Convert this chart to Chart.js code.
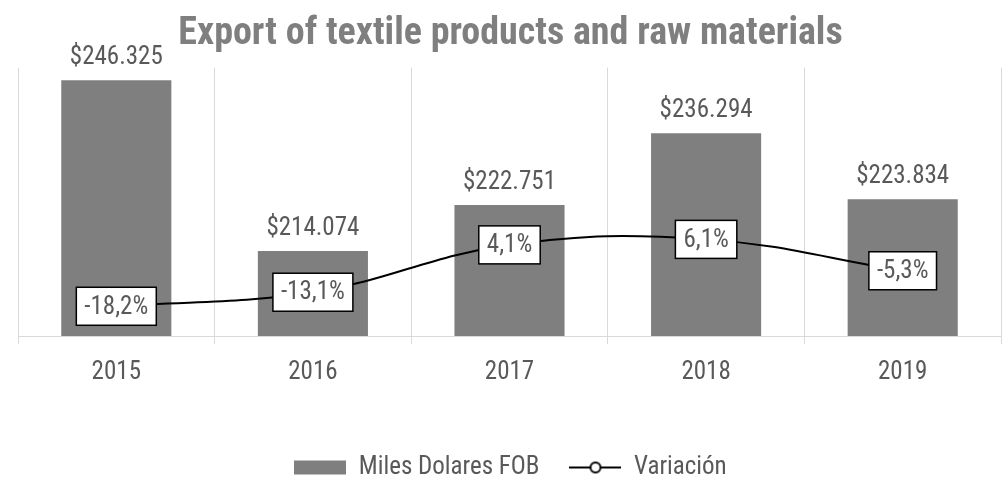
<!DOCTYPE html>
<html>
<head>
<meta charset="utf-8">
<title>Export of textile products and raw materials</title>
<script src="https://cdn.jsdelivr.net/npm/chart.js@4"></script>
<style>
  html, body { margin: 0; padding: 0; background: #fff; }
  #wrap { width: 1008px; height: 480px; }
</style>
</head>
<body>
<div id="wrap"><canvas id="chart"></canvas></div>
<script>
"use strict";
const years = ["2015", "2016", "2017", "2018", "2019"];
const exportValues = [246325, 214074, 222751, 236294, 223834];
const variation = [-18.2, -13.1, 4.1, 6.1, -5.3];
const seriesNames = ["Miles Dolares FOB", "Variación"];

const FONT = "'Liberation Sans Narrow', 'Arial Narrow', 'Roboto Condensed', 'DejaVu Sans Condensed', sans-serif";
const BAR_COLOR = "#7f7f7f";
const TEXT_COLOR = "#595959";

// number formats: $246.325 and -18,2%
function money(v) {
    return "$" + v.toString().replace(/\B(?=(\d{3})+(?!\d))/g, ".");
}
function percent(v) {
    return v.toFixed(1).replace(".", ",") + "%";
}

// little canvases used as legend symbols
function barSymbol() {
    const c = document.createElement("canvas");
    c.width = 52; c.height = 16;
    const g = c.getContext("2d");
    g.fillStyle = BAR_COLOR;
    g.fillRect(0, 1, 52, 14);
    return c;
}
function lineSymbol() {
    const c = document.createElement("canvas");
    c.width = 52; c.height = 16;
    const g = c.getContext("2d");
    g.strokeStyle = "#000";
    g.lineWidth = 2;
    g.beginPath(); g.moveTo(0, 8); g.lineTo(52, 8); g.stroke();
    g.fillStyle = "#fff";
    g.beginPath(); g.arc(26, 8, 5, 0, Math.PI * 2); g.fill(); g.stroke();
    return c;
}

// value labels: text over the bars, boxed text on the line
const valueLabels = {
    id: "valueLabels",
    afterDatasetsDraw(chart) {
        const ctx = chart.ctx;
        ctx.save();
        ctx.font = "25px " + FONT;
        ctx.textAlign = "center";

        const bars = chart.getDatasetMeta(1).data;
        ctx.fillStyle = TEXT_COLOR;
        ctx.textBaseline = "alphabetic";
        bars.forEach((bar, i) => {
            ctx.fillText(money(exportValues[i]), bar.x, bar.y - 16);
        });

        const points = chart.getDatasetMeta(0).data;
        ctx.textBaseline = "middle";
        points.forEach((pt, i) => {
            const txt = percent(variation[i]);
            const w = ctx.measureText(txt).width + 16;
            const h = 38;
            ctx.fillStyle = "#fff";
            ctx.fillRect(pt.x - w / 2, pt.y - h / 2, w, h);
            ctx.strokeStyle = "#000";
            ctx.lineWidth = 1.5;
            ctx.strokeRect(pt.x - w / 2, pt.y - h / 2, w, h);
            ctx.fillStyle = TEXT_COLOR;
            ctx.fillText(txt, pt.x, pt.y + 1);
        });
        ctx.restore();
    }
};

const symbols = [barSymbol(), lineSymbol()];

new Chart(document.getElementById("chart"), {
    data: {
        labels: years,
        datasets: [
            {
                type: "line",
                label: seriesNames[1],
                data: variation,
                yAxisID: "y2",
                borderColor: "#000",
                borderWidth: 2,
                tension: 0.4,
                pointRadius: 5,
                pointBackgroundColor: "#fff",
                pointBorderColor: "#000",
                order: 0
            },
            {
                type: "bar",
                label: seriesNames[0],
                data: exportValues,
                yAxisID: "y",
                backgroundColor: BAR_COLOR,
                categoryPercentage: 1,
                barPercentage: 0.56,
                order: 1
            }
        ]
    },
    options: {
        responsive: true,
        maintainAspectRatio: false,
        animation: false,
        layout: { padding: { left: 18, right: 5, top: 0, bottom: -10 } },
        plugins: {
            title: {
                display: true,
                text: "Export of textile products and raw materials",
                color: BAR_COLOR,
                font: { family: FONT, size: 38, weight: "bold" },
                padding: { top: 12, bottom: 10 }
            },
            legend: {
                position: "bottom",
                labels: {
                    usePointStyle: true,
                    pointStyleWidth: 52,
                    boxHeight: 16,
                    padding: 30,
                    color: TEXT_COLOR,
                    font: { family: FONT, size: 25 },
                    generateLabels: () => seriesNames.map((name, i) => ({
                        text: name,
                        pointStyle: symbols[i],
                        fontColor: TEXT_COLOR,
                        datasetIndex: 1 - i,
                        hidden: false,
                        lineWidth: 0
                    }))
                }
            },
            tooltip: { enabled: false }
        },
        scales: {
            x: {
                offset: true,
                grid: { offset: true, color: "#d9d9d9", tickLength: 8 },
                border: { color: "#d9d9d9" },
                ticks: { color: TEXT_COLOR, font: { family: FONT, size: 25 }, padding: 14 },
                afterFit: (axis) => { axis.height += 23; }
            },
            y: { display: false, min: 198000, max: 248700 },
            y2: { display: false, min: -29, max: 68.5 }
        }
    },
    plugins: [valueLabels]
});
</script>
</body>
</html>
